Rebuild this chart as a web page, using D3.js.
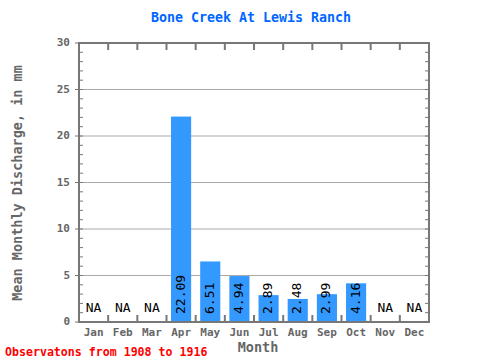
<!DOCTYPE html>
<html><head><meta charset="utf-8">
<script src="https://cdn.jsdelivr.net/npm/d3@7"></script>
<style>body{margin:0;background:#fff}svg{display:block}</style>
</head><body>
<script>
const months = ["Jan","Feb","Mar","Apr","May","Jun","Jul","Aug","Sep","Oct","Nov","Dec"];
const values = [null,null,null,22.09,6.51,4.94,2.89,2.48,2.99,4.16,null,null];
const yTicks = [0,5,10,15,20,25,30];
const title = "Bone Creek At Lewis Ranch";
const yTitle = "Mean Monthly Discharge, in mm";
const xTitle = "Month";
const footer = "Observatons from 1908 to 1916";

const W=480,H=360, L=79, R=429, T=43, B=322;
const font = "'DejaVu Sans Mono', monospace";
const svg = d3.select("body").append("svg").attr("width",W).attr("height",H);
const x = d3.scaleBand().domain(months).range([L,R]).paddingInner(0.31).paddingOuter(0.155);
const xb = d3.scaleLinear().domain([0,12]).range([L,R]);
const y = d3.scaleLinear().domain([0,30]).range([B,T]);

// grid
svg.append("g").selectAll("line").data(yTicks.filter(d=>d>0&&d<30)).join("line")
  .attr("x1",L).attr("x2",R).attr("y1",d=>y(d)).attr("y2",d=>y(d))
  .attr("stroke","#aaa").attr("stroke-width",1);

// bars
svg.append("g").selectAll("rect").data(months.map((m,i)=>({m,v:values[i]})).filter(d=>d.v!=null)).join("rect")
  .attr("x",d=>x(d.m)).attr("width",x.bandwidth()).attr("y",d=>y(d.v)).attr("height",d=>y(0)-y(d.v))
  .attr("fill","#3399ff");

// bar labels
svg.append("g").selectAll("text").data(months.map((m,i)=>({m,v:values[i]}))).join("text")
  .each(function(d){
    const s=d3.select(this).attr("font-family",font).attr("font-size",13).attr("fill","#000");
    const cx=x(d.m)+x.bandwidth()/2;
    if(d.v==null){ s.attr("x",cx).attr("y",y(0)-14).attr("text-anchor","middle").attr("dominant-baseline","middle").text("NA"); }
    else { s.attr("transform",`translate(${cx},${y(0)-8}) rotate(-90)`).attr("text-anchor","start").attr("dominant-baseline","middle").text(d.v.toFixed(2)); }
  });

// frame
const axc="#777";
svg.append("rect").attr("x",L).attr("y",T).attr("width",R-L).attr("height",B-T).attr("fill","none").attr("stroke",axc).attr("stroke-width",2);
// minor y ticks
const minor=d3.range(1,30);
svg.append("g").selectAll("line").data(minor).join("line").attr("x1",L).attr("x2",L+4).attr("y1",d=>y(d)).attr("y2",d=>y(d)).attr("stroke",axc).attr("stroke-width",1);
svg.append("g").selectAll("line").data(minor).join("line").attr("x1",R-4).attr("x2",R).attr("y1",d=>y(d)).attr("y2",d=>y(d)).attr("stroke",axc).attr("stroke-width",1);
// major y ticks
svg.append("g").selectAll("line").data(yTicks).join("line").attr("x1",L-4).attr("x2",L).attr("y1",d=>y(d)).attr("y2",d=>y(d)).attr("stroke",axc).attr("stroke-width",1);
// month boundary ticks
const bnd=d3.range(1,12);
svg.append("g").selectAll("line").data(bnd).join("line").attr("x1",d=>xb(d)).attr("x2",d=>xb(d)).attr("y1",T).attr("y2",T+7).attr("stroke",axc).attr("stroke-width",2);
svg.append("g").selectAll("line").data(bnd).join("line").attr("x1",d=>xb(d)).attr("x2",d=>xb(d)).attr("y1",B-7).attr("y2",B).attr("stroke",axc).attr("stroke-width",2);

// y tick labels
svg.append("g").selectAll("text").data(yTicks).join("text")
  .attr("x",L-9).attr("y",d=>y(d)).attr("text-anchor","end").attr("dominant-baseline","middle")
  .attr("font-family",font).attr("font-size",11).attr("font-weight","bold").attr("fill","#666").text(d=>d);
// x tick labels
svg.append("g").selectAll("text").data(months).join("text")
  .attr("x",d=>x(d)+x.bandwidth()/2).attr("y",333).attr("text-anchor","middle").attr("dominant-baseline","middle")
  .attr("font-family",font).attr("font-size",11).attr("font-weight","bold").attr("fill","#666").text(d=>d);

svg.append("text").attr("x",251).attr("y",18).attr("text-anchor","middle").attr("dominant-baseline","middle")
  .attr("font-family",font).attr("font-size",13.3).attr("font-weight","bold").attr("fill","#0066ff").text(title);
svg.append("text").attr("transform",`translate(18,183) rotate(-90)`).attr("text-anchor","middle").attr("dominant-baseline","middle")
  .attr("font-family",font).attr("font-size",13.5).attr("font-weight","bold").attr("fill","#666").text(yTitle);
svg.append("text").attr("x",258).attr("y",348).attr("text-anchor","middle").attr("dominant-baseline","middle")
  .attr("font-family",font).attr("font-size",13.5).attr("font-weight","bold").attr("fill","#666").text(xTitle);
svg.append("text").attr("x",5).attr("y",352).attr("dominant-baseline","middle")
  .attr("font-family",font).attr("font-size",11.6).attr("font-weight","bold").attr("fill","#ff0000").text(footer);
</script>
</body></html>
